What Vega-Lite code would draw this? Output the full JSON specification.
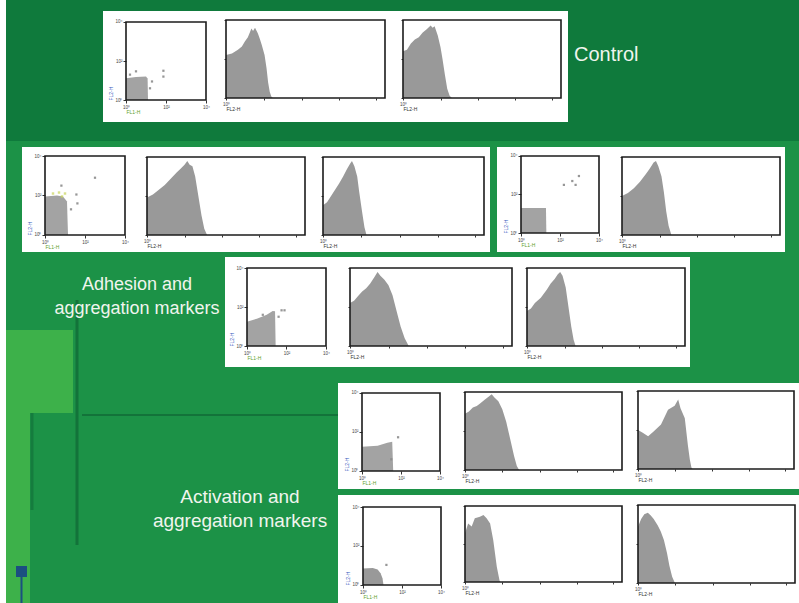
{
"$schema": "https://vega.github.io/schema/vega-lite/v6.json",
"background": "#1c9247",
"padding": 0,
"config": {
  "view": {"stroke": null},
  "concat": {"spacing": 0},
  "font": "Liberation Sans",
  "axis": {"domain": false, "grid": false, "labelFontSize": 4.5, "titleFontSize": 5, "labelColor": "#444444", "tickColor": "#333333", "tickSize": 2, "labelPadding": 1, "titlePadding": 1, "labelOverlap": false, "labelFlush": false, "labelFont": "Liberation Sans", "titleFont": "Liberation Sans", "titleFontWeight": "normal"}
},
"spacing": 0,
"hconcat": [
 {"width": 6, "height": 603, "view": {"fill": "#ffffff", "stroke": null}, "data": {"values": [{}]}, "mark": {"type": "rect", "opacity": 0}, "encoding": {}},
 {"spacing": 0, "vconcat": [
  {"width": 793, "height": 11, "view": {"fill": "#0f7a3c", "stroke": null}, "data": {"values": [{}]}, "mark": {"type": "rect", "opacity": 0}, "encoding": {}},
  {"spacing": 0, "hconcat": [
   {"width": 97, "height": 111, "view": {"fill": "#0f7a3c", "stroke": null}, "data": {"values": [{}]}, "mark": {"type": "rect", "opacity": 0}, "encoding": {}},
   {"width": 115, "height": 111, "view": {"fill": "#ffffff", "stroke": null}, "layer": [
     {"data": {"values": [{"x":0,"y":1.12},{"x":0.5,"y":1.18},{"x":1.0,"y":1.2},{"x":1.08,"y":1.1},{"x":1.1,"y":0}]},
      "mark": {"type": "area", "color": "#a3a3a3"},
      "encoding": {
       "x": {"field": "x", "type": "quantitative", "scale": {"domain": [-1.15, 4.6], "nice": false, "zero": false}, "axis": {"values": [0,1,2,3,4], "offset": -22, "tickSize": 3, "labelExpr": "datum.value == 0 ? '10⁰' : datum.value == 1 ? '10¹' : datum.value == 2 ? '10²' : datum.value == 3 ? '10³' : datum.value == 4 ? '10⁴' : ''", "title": "FL1-H", "titleColor": "#5f9f2f", "titleX": 23, "titleAlign": "left"}},
       "y": {"field": "y", "type": "quantitative", "scale": {"domain": [-1.1282, 4.5641], "nice": false, "zero": false}, "axis": {"values": [0,1,2,3,4], "offset": -23, "tickSize": 3, "labelExpr": "datum.value == 0 ? '10⁰' : datum.value == 1 ? '10¹' : datum.value == 2 ? '10²' : datum.value == 3 ? '10³' : datum.value == 4 ? '10⁴' : ''", "title": "FL2-H", "titleColor": "#3a5cc0", "titleY": 89, "titleAlign": "left"}},
       "y2": {"datum": 0}}},
     {"data": {"values": [{"x":0.5,"y":1.47},{"x":1.2,"y":0.6},{"x":1.3,"y":0.95},{"x":1.87,"y":1.5},{"x":1.87,"y":1.2},{"x":0.2,"y":1.3}]},
      "mark": {"type": "square", "size": 5, "color": "#8c8c8c", "opacity": 0.9},
      "encoding": {"x": {"field": "x", "type": "quantitative"}, "y": {"field": "y", "type": "quantitative"}}},
     {"data": {"values": [{}]}, "mark": {"type": "rect", "filled": false, "stroke": "#1c1c1c", "strokeWidth": 1.6},
      "encoding": {"x": {"datum": 0}, "x2": {"datum": 4}, "y": {"datum": 0}, "y2": {"datum": 4}}}
   ]},
   {"width": 177, "height": 111, "view": {"fill": "#ffffff", "stroke": null}, "layer": [
     {"data": {"values": [{"x":0,"y":55},{"x":0.15,"y":57},{"x":0.3,"y":62},{"x":0.4,"y":66},{"x":0.47,"y":72},{"x":0.55,"y":78},{"x":0.64,"y":89},{"x":0.68,"y":86},{"x":0.73,"y":90},{"x":0.8,"y":83},{"x":0.85,"y":76},{"x":0.9,"y":68},{"x":0.97,"y":55},{"x":1.02,"y":38},{"x":1.06,"y":20},{"x":1.1,"y":8},{"x":1.14,"y":2},{"x":1.18,"y":0}]},
      "mark": {"type": "area", "color": "#999999"},
      "encoding": {
       "x": {"field": "x", "type": "quantitative", "scale": {"domain": [-0.2013, 4.2516], "nice": false, "zero": false}, "axis": {"values": [0,0.301,0.477,0.602,0.699,0.778,0.845,0.903,0.954,1,1.301,1.477,1.602,1.699,1.778,1.845,1.903,1.954,2,2.301,2.477,2.602,2.699,2.778,2.845,2.903,2.954,3,3.301,3.477,3.602,3.699,3.778,3.845,3.903,3.954,4], "offset": -24, "labelExpr": "datum.value == 0 ? '10⁰' : datum.value == 1 ? '10¹' : datum.value == 2 ? '10²' : datum.value == 3 ? '10³' : datum.value == 4 ? '10⁴' : ''", "title": "FL2-H", "titleX": 8, "titleAlign": "left", "titleColor": "#333333"}},
       "y": {"field": "y", "type": "quantitative", "scale": {"domain": [-30.769, 111.538], "nice": false, "zero": false}, "axis": {"values": [0,25,50,75,100], "offset": -8, "labels": false, "title": null}},
       "y2": {"datum": 0}}},
     {"data": {"values": [{}]}, "mark": {"type": "rect", "filled": false, "stroke": "#1c1c1c", "strokeWidth": 1.6},
      "encoding": {"x": {"datum": 0}, "x2": {"datum": 4}, "y": {"datum": 0}, "y2": {"datum": 100}}}
   ]},
   {"width": 173, "height": 111, "view": {"fill": "#ffffff", "stroke": null}, "layer": [
     {"data": {"values": [{"x":0,"y":60},{"x":0.1,"y":62},{"x":0.2,"y":70},{"x":0.3,"y":75},{"x":0.4,"y":78},{"x":0.5,"y":84},{"x":0.6,"y":88},{"x":0.7,"y":93},{"x":0.75,"y":90},{"x":0.8,"y":92},{"x":0.88,"y":80},{"x":0.95,"y":65},{"x":1.0,"y":50},{"x":1.06,"y":30},{"x":1.12,"y":12},{"x":1.18,"y":3},{"x":1.24,"y":0}]},
      "mark": {"type": "area", "color": "#999999"},
      "encoding": {
       "x": {"field": "x", "type": "quantitative", "scale": {"domain": [-0.2025, 4.1772], "nice": false, "zero": false}, "axis": {"values": [0,0.301,0.477,0.602,0.699,0.778,0.845,0.903,0.954,1,1.301,1.477,1.602,1.699,1.778,1.845,1.903,1.954,2,2.301,2.477,2.602,2.699,2.778,2.845,2.903,2.954,3,3.301,3.477,3.602,3.699,3.778,3.845,3.903,3.954,4], "offset": -24, "labelExpr": "datum.value == 0 ? '10⁰' : datum.value == 1 ? '10¹' : datum.value == 2 ? '10²' : datum.value == 3 ? '10³' : datum.value == 4 ? '10⁴' : ''", "title": "FL2-H", "titleX": 8, "titleAlign": "left", "titleColor": "#333333"}},
       "y": {"field": "y", "type": "quantitative", "scale": {"domain": [-30.769, 111.538], "nice": false, "zero": false}, "axis": {"values": [0,25,50,75,100], "offset": -8, "labels": false, "title": null}},
       "y2": {"datum": 0}}},
     {"data": {"values": [{}]}, "mark": {"type": "rect", "filled": false, "stroke": "#1c1c1c", "strokeWidth": 1.6},
      "encoding": {"x": {"datum": 0}, "x2": {"datum": 4}, "y": {"datum": 0}, "y2": {"datum": 100}}}
   ]},
   {"width": 231, "height": 111, "view": {"fill": "#0f7a3c", "stroke": null}, "data": {"values": [{"label": "Control"}]},
    "mark": {"type": "text", "color": "#f0f5ee", "fontSize": 20, "align": "left", "baseline": "middle", "font": "Liberation Sans"},
    "encoding": {"x": {"datum": 6, "type": "quantitative", "scale": {"domain": [0, 231], "nice": false, "zero": false}, "axis": null},
                 "y": {"datum": 44, "type": "quantitative", "scale": {"domain": [0, 111], "reverse": true, "nice": false, "zero": false}, "axis": null},
                 "text": {"field": "label"}}}
  ]},
  {"width": 793, "height": 19, "view": {"fill": "#0f7a3c", "stroke": null}, "data": {"values": [{}]}, "mark": {"type": "rect", "opacity": 0}, "encoding": {}},
  {"width": 793, "height": 6, "view": {"stroke": null}, "data": {"values": [{}]}, "mark": {"type": "rect", "opacity": 0}, "encoding": {}},
  {"spacing": 0, "hconcat": [
   {"width": 16, "height": 105, "view": {"stroke": null}, "data": {"values": [{}]}, "mark": {"type": "rect", "opacity": 0}, "encoding": {}},
   {"width": 118, "height": 105, "view": {"fill": "#ffffff", "stroke": null}, "layer": [
     {"data": {"values": [{"x":0,"y":1.95},{"x":0.6,"y":2.0},{"x":0.9,"y":1.95},{"x":1.1,"y":1.7},{"x":1.15,"y":0}]},
      "mark": {"type": "area", "color": "#a3a3a3"},
      "encoding": {
       "x": {"field": "x", "type": "quantitative", "scale": {"domain": [-1.15, 4.75], "nice": false, "zero": false}, "axis": {"values": [0,1,2,3,4], "offset": -17, "tickSize": 3, "labelExpr": "datum.value == 0 ? '10⁰' : datum.value == 1 ? '10¹' : datum.value == 2 ? '10²' : datum.value == 3 ? '10³' : datum.value == 4 ? '10⁴' : ''", "title": "FL1-H", "titleColor": "#5f9f2f", "titleX": 23, "titleAlign": "left"}},
       "y": {"field": "y", "type": "quantitative", "scale": {"domain": [-0.8608, 4.4557], "nice": false, "zero": false}, "axis": {"values": [0,1,2,3,4], "offset": -23, "tickSize": 3, "labelExpr": "datum.value == 0 ? '10⁰' : datum.value == 1 ? '10¹' : datum.value == 2 ? '10²' : datum.value == 3 ? '10³' : datum.value == 4 ? '10⁴' : ''", "title": "FL2-H", "titleColor": "#3a5cc0", "titleY": 88, "titleAlign": "left"}},
       "y2": {"datum": 0}}},
     {"data": {"values": [{"x":0.4,"y":2.1},{"x":0.7,"y":2.15},{"x":1.0,"y":2.1},{"x":0.85,"y":1.95}]},
      "mark": {"type": "square", "size": 6, "color": "#c9d45a"},
      "encoding": {"x": {"field": "x", "type": "quantitative"}, "y": {"field": "y", "type": "quantitative"}}},
     {"data": {"values": [{"x":0.82,"y":2.5},{"x":1.57,"y":2.05},{"x":1.62,"y":1.6},{"x":2.5,"y":2.9},{"x":1.3,"y":1.3}]},
      "mark": {"type": "square", "size": 5, "color": "#8c8c8c", "opacity": 0.9},
      "encoding": {"x": {"field": "x", "type": "quantitative"}, "y": {"field": "y", "type": "quantitative"}}},
     {"data": {"values": [{}]}, "mark": {"type": "rect", "filled": false, "stroke": "#1c1c1c", "strokeWidth": 1.6},
      "encoding": {"x": {"datum": 0}, "x2": {"datum": 4}, "y": {"datum": 0}, "y2": {"datum": 4}}}
   ]},
   {"width": 174, "height": 105, "view": {"fill": "#ffffff", "stroke": null}, "layer": [
     {"data": {"values": [{"x":0,"y":48},{"x":0.15,"y":52},{"x":0.3,"y":58},{"x":0.45,"y":64},{"x":0.6,"y":72},{"x":0.75,"y":80},{"x":0.85,"y":85},{"x":0.95,"y":90},{"x":1.02,"y":95},{"x":1.08,"y":90},{"x":1.15,"y":88},{"x":1.22,"y":75},{"x":1.3,"y":50},{"x":1.38,"y":25},{"x":1.45,"y":8},{"x":1.52,"y":0}]},
      "mark": {"type": "area", "color": "#999999"},
      "encoding": {
       "x": {"field": "x", "type": "quantitative", "scale": {"domain": [-0.1772, 4.2278], "nice": false, "zero": false}, "axis": {"values": [0,0.301,0.477,0.602,0.699,0.778,0.845,0.903,0.954,1,1.301,1.477,1.602,1.699,1.778,1.845,1.903,1.954,2,2.301,2.477,2.602,2.699,2.778,2.845,2.903,2.954,3,3.301,3.477,3.602,3.699,3.778,3.845,3.903,3.954,4], "offset": -17, "labelExpr": "datum.value == 0 ? '10⁰' : datum.value == 1 ? '10¹' : datum.value == 2 ? '10²' : datum.value == 3 ? '10³' : datum.value == 4 ? '10⁴' : ''", "title": "FL2-H", "titleX": 7, "titleAlign": "left", "titleColor": "#333333"}},
       "y": {"field": "y", "type": "quantitative", "scale": {"domain": [-21.795, 112.821], "nice": false, "zero": false}, "axis": {"values": [0,25,50,75,100], "offset": -7, "labels": false, "title": null}},
       "y2": {"datum": 0}}},
     {"data": {"values": [{}]}, "mark": {"type": "rect", "filled": false, "stroke": "#1c1c1c", "strokeWidth": 1.6},
      "encoding": {"x": {"datum": 0}, "x2": {"datum": 4}, "y": {"datum": 0}, "y2": {"datum": 100}}}
   ]},
   {"width": 176, "height": 105, "view": {"fill": "#ffffff", "stroke": null}, "layer": [
     {"data": {"values": [{"x":0,"y":38},{"x":0.1,"y":42},{"x":0.2,"y":50},{"x":0.3,"y":58},{"x":0.4,"y":66},{"x":0.5,"y":75},{"x":0.6,"y":85},{"x":0.68,"y":92},{"x":0.72,"y":95},{"x":0.78,"y":88},{"x":0.85,"y":75},{"x":0.9,"y":55},{"x":0.97,"y":30},{"x":1.03,"y":10},{"x":1.08,"y":0}]},
      "mark": {"type": "area", "color": "#999999"},
      "encoding": {
       "x": {"field": "x", "type": "quantitative", "scale": {"domain": [-0.2236, 4.1491], "nice": false, "zero": false}, "axis": {"values": [0,0.301,0.477,0.602,0.699,0.778,0.845,0.903,0.954,1,1.301,1.477,1.602,1.699,1.778,1.845,1.903,1.954,2,2.301,2.477,2.602,2.699,2.778,2.845,2.903,2.954,3,3.301,3.477,3.602,3.699,3.778,3.845,3.903,3.954,4], "offset": -17, "labelExpr": "datum.value == 0 ? '10⁰' : datum.value == 1 ? '10¹' : datum.value == 2 ? '10²' : datum.value == 3 ? '10³' : datum.value == 4 ? '10⁴' : ''", "title": "FL2-H", "titleX": 9, "titleAlign": "left", "titleColor": "#333333"}},
       "y": {"field": "y", "type": "quantitative", "scale": {"domain": [-21.795, 112.821], "nice": false, "zero": false}, "axis": {"values": [0,25,50,75,100], "offset": -9, "labels": false, "title": null}},
       "y2": {"datum": 0}}},
     {"data": {"values": [{}]}, "mark": {"type": "rect", "filled": false, "stroke": "#1c1c1c", "strokeWidth": 1.6},
      "encoding": {"x": {"datum": 0}, "x2": {"datum": 4}, "y": {"datum": 0}, "y2": {"datum": 100}}}
   ]},
   {"width": 7, "height": 105, "view": {"stroke": null}, "data": {"values": [{}]}, "mark": {"type": "rect", "opacity": 0}, "encoding": {}},
   {"width": 118, "height": 105, "view": {"fill": "#ffffff", "stroke": null}, "layer": [
     {"data": {"values": [{"x":0,"y":1.3},{"x":1.28,"y":1.3},{"x":1.3,"y":0}]},
      "mark": {"type": "area", "color": "#a3a3a3"},
      "encoding": {
       "x": {"field": "x", "type": "quantitative", "scale": {"domain": [-1.2308, 4.8205], "nice": false, "zero": false}, "axis": {"values": [0,1,2,3,4], "offset": -19, "tickSize": 3, "labelExpr": "datum.value == 0 ? '10⁰' : datum.value == 1 ? '10¹' : datum.value == 2 ? '10²' : datum.value == 3 ? '10³' : datum.value == 4 ? '10⁴' : ''", "title": "FL1-H", "titleColor": "#5f9f2f", "titleX": 24, "titleAlign": "left"}},
       "y": {"field": "y", "type": "quantitative", "scale": {"domain": [-0.987, 4.4675], "nice": false, "zero": false}, "axis": {"values": [0,1,2,3,4], "offset": -24, "tickSize": 3, "labelExpr": "datum.value == 0 ? '10⁰' : datum.value == 1 ? '10¹' : datum.value == 2 ? '10²' : datum.value == 3 ? '10³' : datum.value == 4 ? '10⁴' : ''", "title": "FL2-H", "titleColor": "#3a5cc0", "titleY": 86, "titleAlign": "left"}},
       "y2": {"datum": 0}}},
     {"data": {"values": [{"x":2.2,"y":2.5},{"x":2.63,"y":2.7},{"x":2.8,"y":2.5},{"x":2.97,"y":2.96}]},
      "mark": {"type": "square", "size": 5, "color": "#8c8c8c", "opacity": 0.9},
      "encoding": {"x": {"field": "x", "type": "quantitative"}, "y": {"field": "y", "type": "quantitative"}}},
     {"data": {"values": [{}]}, "mark": {"type": "rect", "filled": false, "stroke": "#1c1c1c", "strokeWidth": 1.6},
      "encoding": {"x": {"datum": 0}, "x2": {"datum": 4}, "y": {"datum": 0}, "y2": {"datum": 4}}}
   ]},
   {"width": 170, "height": 105, "view": {"fill": "#ffffff", "stroke": null}, "layer": [
     {"data": {"values": [{"x":0,"y":50},{"x":0.15,"y":54},{"x":0.3,"y":60},{"x":0.45,"y":68},{"x":0.6,"y":78},{"x":0.7,"y":85},{"x":0.8,"y":93},{"x":0.86,"y":95},{"x":0.92,"y":88},{"x":1.0,"y":75},{"x":1.06,"y":55},{"x":1.12,"y":30},{"x":1.18,"y":12},{"x":1.25,"y":0}]},
      "mark": {"type": "area", "color": "#999999"},
      "encoding": {
       "x": {"field": "x", "type": "quantitative", "scale": {"domain": [-0.1772, 4.1266], "nice": false, "zero": false}, "axis": {"values": [0,0.301,0.477,0.602,0.699,0.778,0.845,0.903,0.954,1,1.301,1.477,1.602,1.699,1.778,1.845,1.903,1.954,2,2.301,2.477,2.602,2.699,2.778,2.845,2.903,2.954,3,3.301,3.477,3.602,3.699,3.778,3.845,3.903,3.954,4], "offset": -17, "labelExpr": "datum.value == 0 ? '10⁰' : datum.value == 1 ? '10¹' : datum.value == 2 ? '10²' : datum.value == 3 ? '10³' : datum.value == 4 ? '10⁴' : ''", "title": "FL2-H", "titleX": 7, "titleAlign": "left", "titleColor": "#333333"}},
       "y": {"field": "y", "type": "quantitative", "scale": {"domain": [-21.795, 112.821], "nice": false, "zero": false}, "axis": {"values": [0,25,50,75,100], "offset": -7, "labels": false, "title": null}},
       "y2": {"datum": 0}}},
     {"data": {"values": [{}]}, "mark": {"type": "rect", "filled": false, "stroke": "#1c1c1c", "strokeWidth": 1.6},
      "encoding": {"x": {"datum": 0}, "x2": {"datum": 4}, "y": {"datum": 0}, "y2": {"datum": 100}}}
   ]},
   {"width": 14, "height": 105, "view": {"stroke": null}, "data": {"values": [{}]}, "mark": {"type": "rect", "opacity": 0}, "encoding": {}}
  ]},
  {"width": 793, "height": 5, "view": {"stroke": null}, "data": {"values": [{}]}, "mark": {"type": "rect", "opacity": 0}, "encoding": {}},
  {"spacing": 0, "hconcat": [
   {"width": 219, "height": 110, "view": {"stroke": null}, "layer": [
     {"data": {"values": [{}]}, "mark": {"type": "rect", "color": "#3db14a"},
      "encoding": {"x": {"datum": 0, "type": "quantitative", "scale": {"domain": [0, 219], "nice": false, "zero": false}, "axis": null}, "x2": {"datum": 67},
                   "y": {"datum": 73, "type": "quantitative", "scale": {"domain": [0, 110], "reverse": true, "nice": false, "zero": false}, "axis": null}, "y2": {"datum": 110}}},
     {"data": {"values": [{}]}, "mark": {"type": "rect", "color": "#13733a"},
      "encoding": {"x": {"datum": 69.5}, "x2": {"datum": 72.5}, "y": {"datum": 43}, "y2": {"datum": 110}}},
     {"data": {"values": [{}]},
      "mark": {"type": "text", "color": "#f0f5ee", "fontSize": 18, "lineHeight": 24, "align": "center", "baseline": "middle", "font": "Liberation Sans"},
      "encoding": {"x": {"datum": 131}, "y": {"datum": 28}, "text": {"value": ["Adhesion and", "aggregation markers"]}}}
   ]},
   {"width": 118, "height": 110, "view": {"fill": "#ffffff", "stroke": null}, "layer": [
     {"data": {"values": [{"x":0,"y":1.25},{"x":0.5,"y":1.4},{"x":1.0,"y":1.6},{"x":1.3,"y":1.8},{"x":1.42,"y":1.78},{"x":1.45,"y":0}]},
      "mark": {"type": "area", "color": "#a3a3a3"},
      "encoding": {
       "x": {"field": "x", "type": "quantitative", "scale": {"domain": [-1.1139, 4.8608], "nice": false, "zero": false}, "axis": {"values": [0,1,2,3,4], "offset": -21, "tickSize": 3, "labelExpr": "datum.value == 0 ? '10⁰' : datum.value == 1 ? '10¹' : datum.value == 2 ? '10²' : datum.value == 3 ? '10³' : datum.value == 4 ? '10⁴' : ''", "title": "FL1-H", "titleColor": "#5f9f2f", "titleX": 22, "titleAlign": "left"}},
       "y": {"field": "y", "type": "quantitative", "scale": {"domain": [-1.0769, 4.5641], "nice": false, "zero": false}, "axis": {"values": [0,1,2,3,4], "offset": -22, "tickSize": 3, "labelExpr": "datum.value == 0 ? '10⁰' : datum.value == 1 ? '10¹' : datum.value == 2 ? '10²' : datum.value == 3 ? '10³' : datum.value == 4 ? '10⁴' : ''", "title": "FL2-H", "titleColor": "#3a5cc0", "titleY": 89, "titleAlign": "left"}},
       "y2": {"datum": 0}}},
     {"data": {"values": [{"x":0.8,"y":1.6},{"x":1.75,"y":1.83},{"x":1.9,"y":1.83},{"x":1.6,"y":1.5}]},
      "mark": {"type": "square", "size": 5, "color": "#8c8c8c", "opacity": 0.9},
      "encoding": {"x": {"field": "x", "type": "quantitative"}, "y": {"field": "y", "type": "quantitative"}}},
     {"data": {"values": [{}]}, "mark": {"type": "rect", "filled": false, "stroke": "#1c1c1c", "strokeWidth": 1.6},
      "encoding": {"x": {"datum": 0}, "x2": {"datum": 4}, "y": {"datum": 0}, "y2": {"datum": 4}}}
   ]},
   {"width": 177, "height": 110, "view": {"fill": "#ffffff", "stroke": null}, "layer": [
     {"data": {"values": [{"x":0,"y":55},{"x":0.1,"y":58},{"x":0.2,"y":64},{"x":0.3,"y":70},{"x":0.4,"y":74},{"x":0.5,"y":80},{"x":0.6,"y":88},{"x":0.68,"y":95},{"x":0.75,"y":90},{"x":0.85,"y":85},{"x":0.95,"y":78},{"x":1.05,"y":65},{"x":1.15,"y":45},{"x":1.25,"y":25},{"x":1.35,"y":10},{"x":1.45,"y":0}]},
      "mark": {"type": "area", "color": "#999999"},
      "encoding": {
       "x": {"field": "x", "type": "quantitative", "scale": {"domain": [-0.1728, 4.1975], "nice": false, "zero": false}, "axis": {"values": [0,0.301,0.477,0.602,0.699,0.778,0.845,0.903,0.954,1,1.301,1.477,1.602,1.699,1.778,1.845,1.903,1.954,2,2.301,2.477,2.602,2.699,2.778,2.845,2.903,2.954,3,3.301,3.477,3.602,3.699,3.778,3.845,3.903,3.954,4], "offset": -21, "labelExpr": "datum.value == 0 ? '10⁰' : datum.value == 1 ? '10¹' : datum.value == 2 ? '10²' : datum.value == 3 ? '10³' : datum.value == 4 ? '10⁴' : ''", "title": "FL2-H", "titleX": 7, "titleAlign": "left", "titleColor": "#333333"}},
       "y": {"field": "y", "type": "quantitative", "scale": {"domain": [-26.923, 114.103], "nice": false, "zero": false}, "axis": {"values": [0,25,50,75,100], "offset": -7, "labels": false, "title": null}},
       "y2": {"datum": 0}}},
     {"data": {"values": [{}]}, "mark": {"type": "rect", "filled": false, "stroke": "#1c1c1c", "strokeWidth": 1.6},
      "encoding": {"x": {"datum": 0}, "x2": {"datum": 4}, "y": {"datum": 0}, "y2": {"datum": 100}}}
   ]},
   {"width": 170, "height": 110, "view": {"fill": "#ffffff", "stroke": null}, "layer": [
     {"data": {"values": [{"x":0,"y":45},{"x":0.1,"y":48},{"x":0.2,"y":55},{"x":0.35,"y":62},{"x":0.5,"y":72},{"x":0.6,"y":80},{"x":0.7,"y":86},{"x":0.78,"y":92},{"x":0.84,"y":95},{"x":0.9,"y":90},{"x":0.98,"y":75},{"x":1.05,"y":50},{"x":1.12,"y":25},{"x":1.18,"y":8},{"x":1.23,"y":0}]},
      "mark": {"type": "area", "color": "#999999"},
      "encoding": {
       "x": {"field": "x", "type": "quantitative", "scale": {"domain": [-0.1772, 4.1266], "nice": false, "zero": false}, "axis": {"values": [0,0.301,0.477,0.602,0.699,0.778,0.845,0.903,0.954,1,1.301,1.477,1.602,1.699,1.778,1.845,1.903,1.954,2,2.301,2.477,2.602,2.699,2.778,2.845,2.903,2.954,3,3.301,3.477,3.602,3.699,3.778,3.845,3.903,3.954,4], "offset": -21, "labelExpr": "datum.value == 0 ? '10⁰' : datum.value == 1 ? '10¹' : datum.value == 2 ? '10²' : datum.value == 3 ? '10³' : datum.value == 4 ? '10⁴' : ''", "title": "FL2-H", "titleX": 7, "titleAlign": "left", "titleColor": "#333333"}},
       "y": {"field": "y", "type": "quantitative", "scale": {"domain": [-26.923, 114.103], "nice": false, "zero": false}, "axis": {"values": [0,25,50,75,100], "offset": -7, "labels": false, "title": null}},
       "y2": {"datum": 0}}},
     {"data": {"values": [{}]}, "mark": {"type": "rect", "filled": false, "stroke": "#1c1c1c", "strokeWidth": 1.6},
      "encoding": {"x": {"datum": 0}, "x2": {"datum": 4}, "y": {"datum": 0}, "y2": {"datum": 100}}}
   ]},
   {"width": 109, "height": 110, "view": {"stroke": null}, "data": {"values": [{}]}, "mark": {"type": "rect", "opacity": 0}, "encoding": {}}
  ]},
  {"spacing": 0, "hconcat": [
   {"width": 332, "height": 236, "view": {"stroke": null}, "layer": [
     {"data": {"values": [{}]}, "mark": {"type": "rect", "color": "#3db14a"},
      "encoding": {"x": {"datum": 0, "type": "quantitative", "scale": {"domain": [0, 332], "nice": false, "zero": false}, "axis": null}, "x2": {"datum": 67},
                   "y": {"datum": 0, "type": "quantitative", "scale": {"domain": [0, 236], "reverse": true, "nice": false, "zero": false}, "axis": null}, "y2": {"datum": 46}}},
     {"data": {"values": [{}]}, "mark": {"type": "rect", "color": "#3db14a"},
      "encoding": {"x": {"datum": 0}, "x2": {"datum": 24}, "y": {"datum": 46}, "y2": {"datum": 236}}},
     {"data": {"values": [{}]}, "mark": {"type": "rect", "color": "#13733a"},
      "encoding": {"x": {"datum": 69.5}, "x2": {"datum": 72.5}, "y": {"datum": 0}, "y2": {"datum": 178}}},
     {"data": {"values": [{}]}, "mark": {"type": "rect", "color": "#13733a"},
      "encoding": {"x": {"datum": 76}, "x2": {"datum": 332}, "y": {"datum": 47}, "y2": {"datum": 49}}},
     {"data": {"values": [{}]}, "mark": {"type": "rect", "color": "#13733a", "opacity": 0.7},
      "encoding": {"x": {"datum": 24.5}, "x2": {"datum": 27.5}, "y": {"datum": 46}, "y2": {"datum": 143}}},
     {"data": {"values": [{}]}, "mark": {"type": "rect", "color": "#1b4f80"},
      "encoding": {"x": {"datum": 10}, "x2": {"datum": 21}, "y": {"datum": 199}, "y2": {"datum": 210}}},
     {"data": {"values": [{}]}, "mark": {"type": "rect", "color": "#1b4f80"},
      "encoding": {"x": {"datum": 14.5}, "x2": {"datum": 16.5}, "y": {"datum": 210}, "y2": {"datum": 236}}},
     {"data": {"values": [{}]}, "mark": {"type": "text", "color": "#f0f5ee", "fontSize": 19, "lineHeight": 24, "align": "center", "baseline": "middle", "font": "Liberation Sans"},
      "encoding": {"x": {"datum": 234}, "y": {"datum": 130}, "text": {"value": ["Activation and", "aggregation markers"]}}}
   ]},
   {"spacing": 0, "vconcat": [
    {"width": 461, "height": 16, "view": {"stroke": null}, "data": {"values": [{}]}, "mark": {"type": "rect", "opacity": 0}, "encoding": {}},
    {"spacing": 0, "hconcat": [
     {"width": 120, "height": 106, "view": {"fill": "#ffffff", "stroke": null}, "layer": [
       {"data": {"values": [{"x":0,"y":1.25},{"x":0.8,"y":1.3},{"x":1.3,"y":1.45},{"x":1.55,"y":1.5},{"x":1.6,"y":0}]},
        "mark": {"type": "area", "color": "#a3a3a3"},
        "encoding": {
         "x": {"field": "x", "type": "quantitative", "scale": {"domain": [-1.2308, 4.9231], "nice": false, "zero": false}, "axis": {"values": [0,1,2,3,4], "offset": -18, "tickSize": 3, "labelExpr": "datum.value == 0 ? '10⁰' : datum.value == 1 ? '10¹' : datum.value == 2 ? '10²' : datum.value == 3 ? '10³' : datum.value == 4 ? '10⁴' : ''", "title": "FL1-H", "titleColor": "#5f9f2f", "titleX": 24, "titleAlign": "left"}},
         "y": {"field": "y", "type": "quantitative", "scale": {"domain": [-0.9231, 4.5128], "nice": false, "zero": false}, "axis": {"values": [0,1,2,3,4], "offset": -24, "tickSize": 3, "labelExpr": "datum.value == 0 ? '10⁰' : datum.value == 1 ? '10¹' : datum.value == 2 ? '10²' : datum.value == 3 ? '10³' : datum.value == 4 ? '10⁴' : ''", "title": "FL2-H", "titleColor": "#3a5cc0", "titleY": 88, "titleAlign": "left"}},
         "y2": {"datum": 0}}},
       {"data": {"values": [{"x":1.85,"y":1.73},{"x":1.5,"y":0.6}]},
        "mark": {"type": "square", "size": 5, "color": "#8c8c8c", "opacity": 0.9},
        "encoding": {"x": {"field": "x", "type": "quantitative"}, "y": {"field": "y", "type": "quantitative"}}},
       {"data": {"values": [{}]}, "mark": {"type": "rect", "filled": false, "stroke": "#1c1c1c", "strokeWidth": 1.6},
        "encoding": {"x": {"datum": 0}, "x2": {"datum": 4}, "y": {"datum": 0}, "y2": {"datum": 4}}}
     ]},
     {"width": 174, "height": 106, "view": {"fill": "#ffffff", "stroke": null}, "layer": [
       {"data": {"values": [{"x":0,"y":72},{"x":0.1,"y":75},{"x":0.2,"y":80},{"x":0.3,"y":82},{"x":0.4,"y":86},{"x":0.5,"y":90},{"x":0.6,"y":94},{"x":0.68,"y":97},{"x":0.75,"y":93},{"x":0.85,"y":88},{"x":0.95,"y":78},{"x":1.05,"y":62},{"x":1.15,"y":40},{"x":1.25,"y":18},{"x":1.32,"y":5},{"x":1.38,"y":0}]},
        "mark": {"type": "area", "color": "#999999"},
        "encoding": {
         "x": {"field": "x", "type": "quantitative", "scale": {"domain": [-0.1783, 4.2548], "nice": false, "zero": false}, "axis": {"values": [0,0.301,0.477,0.602,0.699,0.778,0.845,0.903,0.954,1,1.301,1.477,1.602,1.699,1.778,1.845,1.903,1.954,2,2.301,2.477,2.602,2.699,2.778,2.845,2.903,2.954,3,3.301,3.477,3.602,3.699,3.778,3.845,3.903,3.954,4], "offset": -19, "labelExpr": "datum.value == 0 ? '10⁰' : datum.value == 1 ? '10¹' : datum.value == 2 ? '10²' : datum.value == 3 ? '10³' : datum.value == 4 ? '10⁴' : ''", "title": "FL2-H", "titleX": 7, "titleAlign": "left", "titleColor": "#333333"}},
         "y": {"field": "y", "type": "quantitative", "scale": {"domain": [-24.359, 111.538], "nice": false, "zero": false}, "axis": {"values": [0,25,50,75,100], "offset": -7, "labels": false, "title": null}},
         "y2": {"datum": 0}}},
       {"data": {"values": [{}]}, "mark": {"type": "rect", "filled": false, "stroke": "#1c1c1c", "strokeWidth": 1.6},
        "encoding": {"x": {"datum": 0}, "x2": {"datum": 4}, "y": {"datum": 0}, "y2": {"datum": 100}}}
     ]},
     {"width": 167, "height": 106, "view": {"fill": "#ffffff", "stroke": null}, "layer": [
       {"data": {"values": [{"x":0,"y":50},{"x":0.1,"y":47},{"x":0.26,"y":42},{"x":0.4,"y":48},{"x":0.59,"y":57},{"x":0.77,"y":76},{"x":0.94,"y":81},{"x":1.03,"y":89},{"x":1.09,"y":78},{"x":1.2,"y":65},{"x":1.28,"y":30},{"x":1.33,"y":12},{"x":1.37,"y":2},{"x":1.4,"y":0}]},
        "mark": {"type": "area", "color": "#999999"},
        "encoding": {
         "x": {"field": "x", "type": "quantitative", "scale": {"domain": [-0.1538, 4.1282], "nice": false, "zero": false}, "axis": {"values": [0,0.301,0.477,0.602,0.699,0.778,0.845,0.903,0.954,1,1.301,1.477,1.602,1.699,1.778,1.845,1.903,1.954,2,2.301,2.477,2.602,2.699,2.778,2.845,2.903,2.954,3,3.301,3.477,3.602,3.699,3.778,3.845,3.903,3.954,4], "offset": -20, "labelExpr": "datum.value == 0 ? '10⁰' : datum.value == 1 ? '10¹' : datum.value == 2 ? '10²' : datum.value == 3 ? '10³' : datum.value == 4 ? '10⁴' : ''", "title": "FL2-H", "titleX": 6, "titleAlign": "left", "titleColor": "#333333"}},
         "y": {"field": "y", "type": "quantitative", "scale": {"domain": [-25.641, 110.256], "nice": false, "zero": false}, "axis": {"values": [0,25,50,75,100], "offset": -6, "labels": false, "title": null}},
         "y2": {"datum": 0}}},
       {"data": {"values": [{}]}, "mark": {"type": "rect", "filled": false, "stroke": "#1c1c1c", "strokeWidth": 1.6},
        "encoding": {"x": {"datum": 0}, "x2": {"datum": 4}, "y": {"datum": 0}, "y2": {"datum": 100}}}
     ]}
    ]},
    {"width": 461, "height": 6, "view": {"stroke": null}, "data": {"values": [{}]}, "mark": {"type": "rect", "opacity": 0}, "encoding": {}},
    {"spacing": 0, "hconcat": [
     {"width": 120, "height": 108, "view": {"fill": "#ffffff", "stroke": null}, "layer": [
       {"data": {"values": [{"x":0,"y":0.85},{"x":0.5,"y":0.87},{"x":0.75,"y":0.8},{"x":0.9,"y":0.6},{"x":1.0,"y":0.35},{"x":1.05,"y":0}]},
        "mark": {"type": "area", "color": "#999999"},
        "encoding": {
         "x": {"field": "x", "type": "quantitative", "scale": {"domain": [-1.2821, 4.8718], "nice": false, "zero": false}, "axis": {"values": [0,1,2,3,4], "offset": -18, "tickSize": 3, "labelExpr": "datum.value == 0 ? '10⁰' : datum.value == 1 ? '10¹' : datum.value == 2 ? '10²' : datum.value == 3 ? '10³' : datum.value == 4 ? '10⁴' : ''", "title": "FL1-H", "titleColor": "#5f9f2f", "titleX": 25, "titleAlign": "left"}},
         "y": {"field": "y", "type": "quantitative", "scale": {"domain": [-0.9231, 4.6154], "nice": false, "zero": false}, "axis": {"values": [0,1,2,3,4], "offset": -25, "tickSize": 3, "labelExpr": "datum.value == 0 ? '10⁰' : datum.value == 1 ? '10¹' : datum.value == 2 ? '10²' : datum.value == 3 ? '10³' : datum.value == 4 ? '10⁴' : ''", "title": "FL2-H", "titleColor": "#3a5cc0", "titleY": 90, "titleAlign": "left"}},
         "y2": {"datum": 0}}},
       {"data": {"values": [{"x":1.2,"y":1.03}]},
        "mark": {"type": "square", "size": 5, "color": "#8c8c8c", "opacity": 0.9},
        "encoding": {"x": {"field": "x", "type": "quantitative"}, "y": {"field": "y", "type": "quantitative"}}},
       {"data": {"values": [{}]}, "mark": {"type": "rect", "filled": false, "stroke": "#1c1c1c", "strokeWidth": 1.6},
        "encoding": {"x": {"datum": 0}, "x2": {"datum": 4}, "y": {"datum": 0}, "y2": {"datum": 4}}}
     ]},
     {"width": 174, "height": 108, "view": {"fill": "#ffffff", "stroke": null}, "layer": [
       {"data": {"values": [{"x":0,"y":64},{"x":0.08,"y":77},{"x":0.17,"y":73},{"x":0.25,"y":84},{"x":0.38,"y":86},{"x":0.47,"y":88},{"x":0.55,"y":84},{"x":0.64,"y":77},{"x":0.72,"y":55},{"x":0.81,"y":20},{"x":0.88,"y":2},{"x":0.9,"y":0}]},
        "mark": {"type": "area", "color": "#999999"},
        "encoding": {
         "x": {"field": "x", "type": "quantitative", "scale": {"domain": [-0.1783, 4.2548], "nice": false, "zero": false}, "axis": {"values": [0,0.301,0.477,0.602,0.699,0.778,0.845,0.903,0.954,1,1.301,1.477,1.602,1.699,1.778,1.845,1.903,1.954,2,2.301,2.477,2.602,2.699,2.778,2.845,2.903,2.954,3,3.301,3.477,3.602,3.699,3.778,3.845,3.903,3.954,4], "offset": -21, "labelExpr": "datum.value == 0 ? '10⁰' : datum.value == 1 ? '10¹' : datum.value == 2 ? '10²' : datum.value == 3 ? '10³' : datum.value == 4 ? '10⁴' : ''", "title": "FL2-H", "titleX": 7, "titleAlign": "left", "titleColor": "#333333"}},
         "y": {"field": "y", "type": "quantitative", "scale": {"domain": [-27.632, 114.474], "nice": false, "zero": false}, "axis": {"values": [0,25,50,75,100], "offset": -7, "labels": false, "title": null}},
         "y2": {"datum": 0}}},
       {"data": {"values": [{}]}, "mark": {"type": "rect", "filled": false, "stroke": "#1c1c1c", "strokeWidth": 1.6},
        "encoding": {"x": {"datum": 0}, "x2": {"datum": 4}, "y": {"datum": 0}, "y2": {"datum": 100}}}
     ]},
     {"width": 167, "height": 108, "view": {"fill": "#ffffff", "stroke": null}, "layer": [
       {"data": {"values": [{"x":0,"y":72},{"x":0.08,"y":82},{"x":0.16,"y":88},{"x":0.25,"y":90},{"x":0.32,"y":87},{"x":0.4,"y":82},{"x":0.5,"y":74},{"x":0.58,"y":66},{"x":0.66,"y":55},{"x":0.74,"y":38},{"x":0.8,"y":22},{"x":0.87,"y":8},{"x":0.94,"y":0}]},
        "mark": {"type": "area", "color": "#999999"},
        "encoding": {
         "x": {"field": "x", "type": "quantitative", "scale": {"domain": [-0.1529, 4.1019], "nice": false, "zero": false}, "axis": {"values": [0,0.301,0.477,0.602,0.699,0.778,0.845,0.903,0.954,1,1.301,1.477,1.602,1.699,1.778,1.845,1.903,1.954,2,2.301,2.477,2.602,2.699,2.778,2.845,2.903,2.954,3,3.301,3.477,3.602,3.699,3.778,3.845,3.903,3.954,4], "offset": -20, "labelExpr": "datum.value == 0 ? '10⁰' : datum.value == 1 ? '10¹' : datum.value == 2 ? '10²' : datum.value == 3 ? '10³' : datum.value == 4 ? '10⁴' : ''", "title": "FL2-H", "titleX": 6, "titleAlign": "left", "titleColor": "#333333"}},
         "y": {"field": "y", "type": "quantitative", "scale": {"domain": [-25.641, 112.821], "nice": false, "zero": false}, "axis": {"values": [0,25,50,75,100], "offset": -6, "labels": false, "title": null}},
         "y2": {"datum": 0}}},
       {"data": {"values": [{}]}, "mark": {"type": "rect", "filled": false, "stroke": "#1c1c1c", "strokeWidth": 1.6},
        "encoding": {"x": {"datum": 0}, "x2": {"datum": 4}, "y": {"datum": 0}, "y2": {"datum": 100}}}
     ]}
    ]}
   ]}
  ]}
 ]}
]
}
